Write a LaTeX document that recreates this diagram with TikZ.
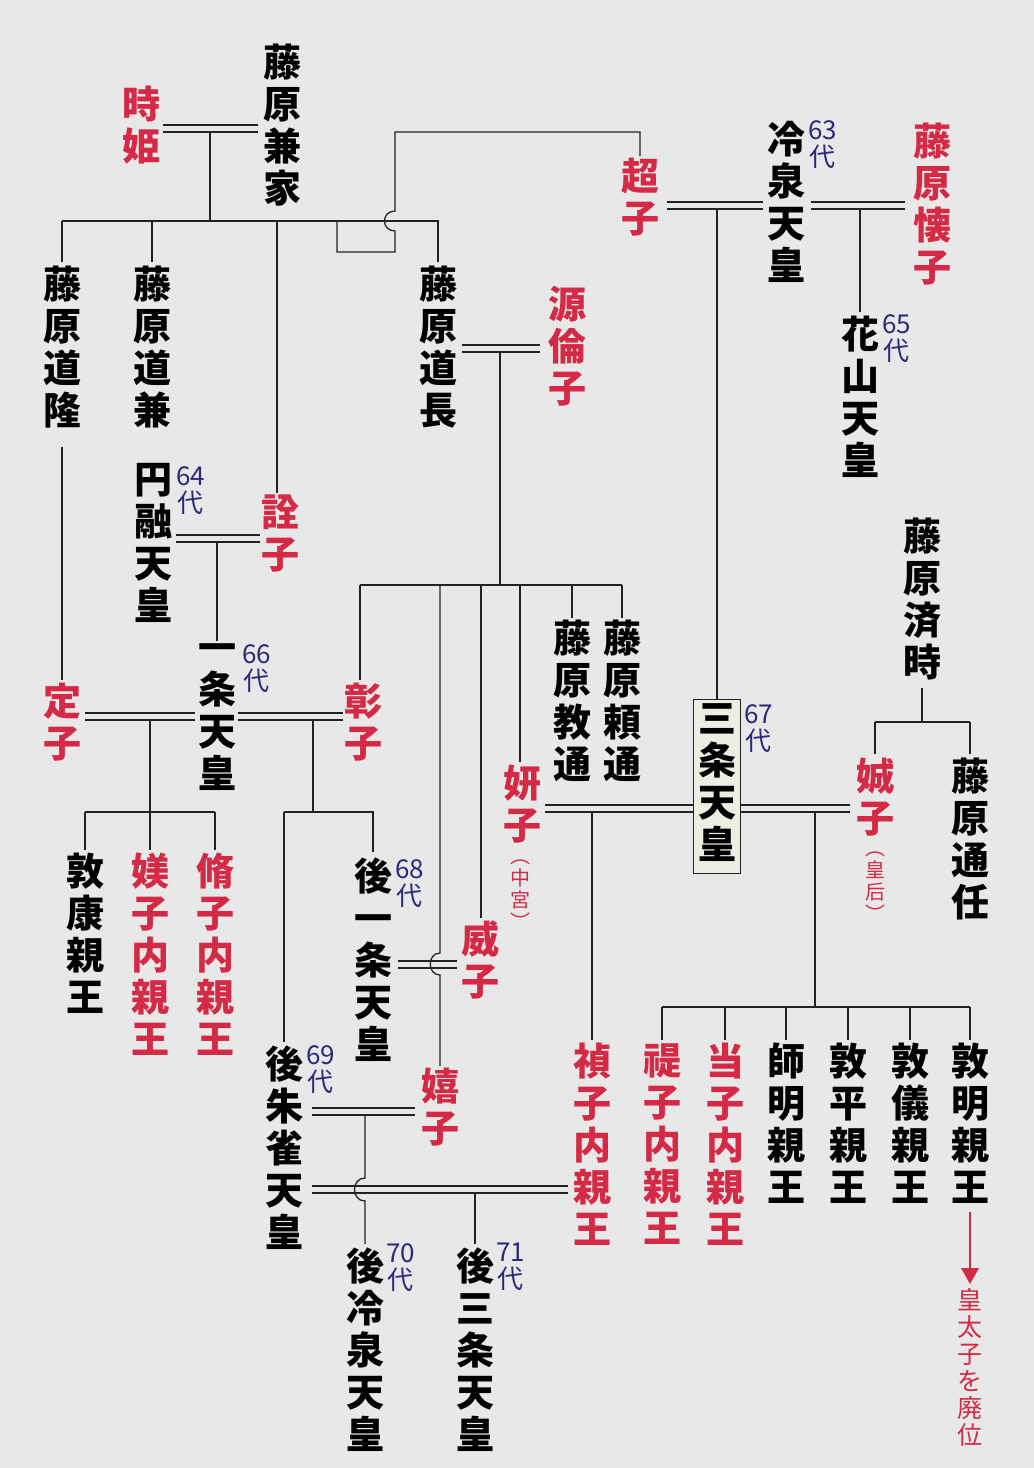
\documentclass[tikz,border=0pt]{standalone}
\usepackage{fontspec}
\newfontfamily\jp{Noto Sans CJK JP}
\definecolor{bg}{HTML}{E8E8E8}
\definecolor{rd}{HTML}{D42A45}
\definecolor{nv}{HTML}{2B2A7A}
\definecolor{ln}{HTML}{222222}
\definecolor{bx}{HTML}{EDEDE4}
\begin{document}
\begin{tikzpicture}[x=1pt,y=-1pt,
  person/.style={anchor=north,inner sep=0,align=center,font=\jp\bfseries\fontsize{38}{42}\selectfont},
  wife/.style={person,text=rd},
  gen/.style={anchor=north west,inner sep=0,align=center,text=nv,font=\jp\fontsize{26}{27}\selectfont},
  small/.style={anchor=north,inner sep=0,align=center,text=rd,font=\jp\fontsize{20}{22}\selectfont},
  note/.style={anchor=north,inner sep=0,align=center,text=rd,font=\jp\fontsize{25}{27}\selectfont},
  l/.style={draw=ln,line width=1.3pt}]
\fill[bg] (0,0) rectangle (1034,1468);
\useasboundingbox (0,0) rectangle (1034,1468);
% --- names
\node[person] (kaneie) at (282,44) {藤\\原\\兼\\家};
\node[wife] (tokihime) at (141,86) {時\\姫};
\node[person] (michitaka) at (62,266) {藤\\原\\道\\隆};
\node[person] (michikane) at (152,266) {藤\\原\\道\\兼};
\node[person] (michinaga) at (438,266) {藤\\原\\道\\長};
\node[wife] (rinshi) at (567,286) {源\\倫\\子};
\node[wife] (senshi) at (280,495) {詮\\子};
\node[person] (enyu) at (153,463) {円\\融\\天\\皇};
\node[gen] (g64) at (176,466) {64\\代};
\node[person] (ichijo) at (217,643) {一\\条\\天\\皇};
\node[gen] (g66) at (242,644) {66\\代};
\node[wife] (teishi) at (62,683) {定\\子};
\node[wife] (shoshi) at (363,683) {彰\\子};
\node[person] (atsuyasu) at (85,853) {敦\\康\\親\\王};
\node[wife] (bishi) at (150,853) {媄\\子\\内\\親\\王};
\node[wife] (shushi) at (215,853) {脩\\子\\内\\親\\王};
\node[person] (goichijo) at (373,858) {後\\一\\条\\天\\皇};
\node[gen] (g68) at (395,859) {68\\代};
\node[wife] (ishi) at (480,920) {威\\子};
\node[wife] (kishi) at (440,1068) {嬉\\子};
\node[person] (norimichi) at (572,620) {藤\\原\\教\\通};
\node[person] (yorimichi) at (622,620) {藤\\原\\頼\\通};
\node[wife] (kenshi) at (522,765) {妍\\子};
\node[small] (chugu) at (520,860) {︵\\中\\宮\\︶};
\fill[bx] (693,699) rectangle (740,873);
\draw[ln,line width=1pt] (693,699) rectangle (740,873);
\node[person] (sanjo) at (717,703) {三\\条\\天\\皇};
\node[gen] (g67) at (744,704) {67\\代};
\node[wife] (choshi) at (640,158) {超\\子};
\node[person] (reizei) at (786,121) {冷\\泉\\天\\皇};
\node[gen] (g63) at (808,120) {63\\代};
\node[wife] (kaishi) at (932,123) {藤\\原\\懐\\子};
\node[person] (kazan) at (860,316) {花\\山\\天\\皇};
\node[gen] (g65) at (882,314) {65\\代};
\node[person] (naritoki) at (922,518) {藤\\原\\済\\時};
\node[wife] (seishi) at (875,758) {娍\\子};
\node[small] (kogo) at (875,852) {︵\\皇\\后\\︶};
\node[person] (michito) at (970,758) {藤\\原\\通\\任};
\node[wife] (teishi2) at (592,1043) {禎\\子\\内\\親\\王};
\node[wife] (shishi) at (662,1043) {禔\\子\\内\\親\\王};
\node[wife] (toshi) at (725,1043) {当\\子\\内\\親\\王};
\node[person] (morosada) at (786,1043) {師\\明\\親\\王};
\node[person] (atsuhira) at (848,1043) {敦\\平\\親\\王};
\node[person] (atsunori) at (910,1043) {敦\\儀\\親\\王};
\node[person] (atsuakira) at (970,1043) {敦\\明\\親\\王};
\node[note] (haii) at (970,1288) {皇\\太\\子\\を\\廃\\位};
\node[person] (gosuzaku) at (284,1046) {後\\朱\\雀\\天\\皇};
\node[gen] (g69) at (306,1045) {69\\代};
\node[person] (goreizei) at (365,1248) {後\\冷\\泉\\天\\皇};
\node[gen] (g70) at (386,1243) {70\\代};
\node[person] (gosanjo) at (475,1248) {後\\三\\条\\天\\皇};
\node[gen] (g71) at (496,1243) {71\\代};
% --- lines
\draw[l] (163,125)--(258,125) (163,132)--(258,132);
\draw[l] (210,132)--(210,221);
\draw[l] (62,221)--(438,221)--(438,262);
\draw[l] (62,221)--(62,262) (152,221)--(152,262) (277,221)--(277,493);
\draw[l] (337,221)--(337,252)--(395,252)--(395,231) .. controls (381,231) and (381,211) .. (395,211)--(395,132)--(640,132)--(640,156);
\draw[l] (62,447)--(62,680);
\draw[l] (462,345)--(540,345) (462,352)--(540,352);
\draw[l] (500,352)--(500,585);
\draw[l] (360,585)--(622,585);
\draw[l] (360,585)--(360,680) (481,585)--(481,918) (520,585)--(520,762) (572,585)--(572,618) (622,585)--(622,618);
\draw[l] (440,585)--(440,953) .. controls (427,953) and (427,975) .. (440,975)--(440,1066);
\draw[l] (176,535)--(260,535) (176,542)--(260,542);
\draw[l] (217,542)--(217,641);
\draw[l] (85,713)--(195,713) (85,720)--(195,720);
\draw[l] (150,720)--(150,812);
\draw[l] (85,812)--(215,812);
\draw[l] (85,812)--(85,850) (150,812)--(150,850) (215,812)--(215,850);
\draw[l] (238,713)--(343,713) (238,720)--(343,720);
\draw[l] (313,720)--(313,812);
\draw[l] (284,812)--(373,812)--(373,852);
\draw[l] (284,812)--(284,1042);
\draw[l] (398,961)--(457,961) (398,968)--(457,968);
\draw[l] (667,202)--(763,202) (667,209)--(763,209);
\draw[l] (717,209)--(717,699);
\draw[l] (811,202)--(905,202) (811,209)--(905,209);
\draw[l] (860,209)--(860,312);
\draw[l] (545,805)--(693,805) (545,812)--(693,812);
\draw[l] (592,812)--(592,1040);
\draw[l] (922,688)--(922,722);
\draw[l] (875,722)--(970,722);
\draw[l] (875,722)--(875,754) (970,722)--(970,754);
\draw[l] (740,805)--(850,805) (740,812)--(850,812);
\draw[l] (815,812)--(815,1007);
\draw[l] (662,1007)--(970,1007);
\foreach \x in {662,725,786,848,910,970} \draw[l] (\x,1007)--(\x,1040);
\draw[rd,line width=1.3pt] (970,1212)--(970,1272);
\fill[rd] (961,1268)--(979,1268)--(970,1284)--cycle;
\draw[l] (312,1108)--(415,1108) (312,1115)--(415,1115);
\draw[l] (312,1186)--(568,1186) (312,1193)--(568,1193);
\draw[l] (365,1115)--(365,1178) .. controls (351,1178) and (351,1201) .. (365,1201)--(365,1244);
\draw[l] (475,1193)--(475,1244);
\end{tikzpicture}
\end{document}
